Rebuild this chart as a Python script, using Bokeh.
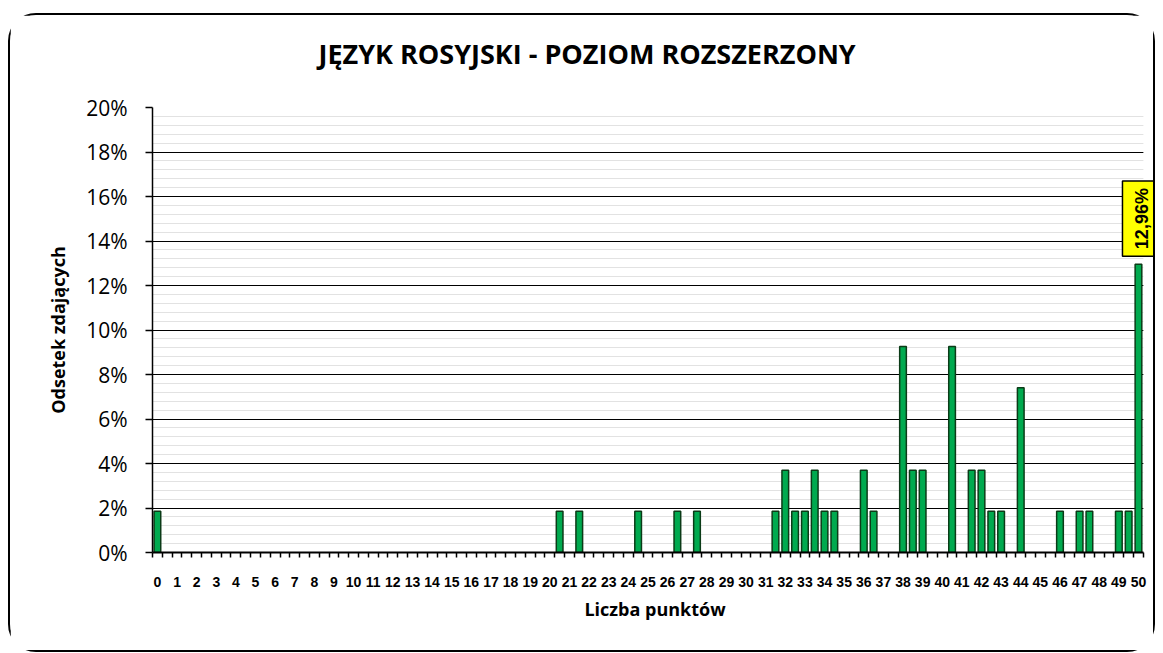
import math
from bokeh.plotting import figure
from bokeh.models import (FixedTicker, Range1d, Label, PrintfTickFormatter,
                          Title, BoxAnnotation)
from bokeh.embed import file_html
from bokeh.resources import INLINE

tytul = "JĘZYK ROSYJSKI - POZIOM ROZSZERZONY"
os_x_tytul = "Liczba punktów"
os_y_tytul = "Odsetek zdających"

# wyniki (punkty) z niezerowym odsetkiem zdających
punkty = [0, 20.5, 21.5, 24.5, 26.5, 27.5, 31.5, 32, 32.5, 33, 33.5, 34, 34.5,
          36, 36.5, 38, 38.5, 39, 40.5, 41.5, 42, 42.5, 43, 44, 46, 47, 47.5,
          49, 49.5, 50]
odsetek = [1.85, 1.85, 1.85, 1.85, 1.85, 1.85, 1.85, 3.70, 1.85, 1.85, 3.70,
           1.85, 1.85, 3.70, 1.85, 9.26, 3.70, 3.70, 9.26, 3.70, 3.70, 1.85,
           1.85, 7.41, 1.85, 1.85, 1.85, 1.85, 1.85, 12.96]

etykiety_x = list(range(0, 51))
etykiety_y = [0, 2, 4, 6, 8, 10, 12, 14, 16, 18, 20]

x_lo, x_hi = -0.25, 50.25   # category band edges

p = figure(width=1147, height=639, output_backend="svg", toolbar_location=None,
           x_range=Range1d(x_lo, 50.97), y_range=Range1d(0, 20),
           min_border_left=142, min_border_right=0, min_border_top=92,
           min_border_bottom=102, title=tytul)
p.styles = {"border": "2px solid black", "border-radius": "28px",
            "margin-top": "13px", "margin-left": "8px"}
p.outline_line_color = None
p.background_fill_color = "white"

p.title.align = "left"
p.title.offset = 166
p.title.standoff = 10
p.title.text_font = "Open Sans"
p.title.text_font_size = "27px"
p.title.text_font_style = "bold"
p.title.text_color = "black"
# spacer between the title and the plot area
p.add_layout(Title(text=" ", text_font_size="10px", standoff=18), "above")

# bars
p.vbar(x=punkty, top=odsetek, width=0.34, bottom=0,
       fill_color="#00AA4F", line_color="#0B3B17", line_width=1.5)

# y axis
yax = p.yaxis[0]
yax.ticker = FixedTicker(ticks=etykiety_y,
                         minor_ticks=[i * 0.4 for i in range(51)])
yax.formatter = PrintfTickFormatter(format="%d%%")
yax.major_label_text_font = "Open Sans"
yax.major_label_text_font_size = "21px"
yax.major_label_text_color = "black"
yax.major_label_standoff = 18
yax.major_tick_out = 7
yax.major_tick_in = 0
yax.minor_tick_line_color = None
yax.axis_line_color = "black"
yax.axis_line_width = 1.5
yax.major_tick_line_color = "black"
yax.major_tick_line_width = 1.5
yax.axis_label = os_y_tytul
yax.axis_label_text_font = "Open Sans"
yax.axis_label_text_font_size = "18px"
yax.axis_label_text_font_style = "bold"
yax.axis_label_text_color = "black"
yax.axis_label_standoff = 13

# x axis
xax = p.xaxis[0]
xax.bounds = (x_lo, x_hi)
xax.ticker = FixedTicker(ticks=etykiety_x,
                         minor_ticks=[k * 0.5 - 0.25 for k in range(102)])
xax.major_tick_out = 0
xax.major_tick_in = 0
xax.minor_tick_out = 5
xax.minor_tick_in = 0
xax.minor_tick_line_color = "black"
xax.minor_tick_line_width = 1.5
xax.axis_line_color = "black"
xax.axis_line_width = 2
xax.major_label_text_font = "Liberation Sans"
xax.major_label_text_font_style = "bold"
xax.major_label_text_font_size = "14px"
xax.major_label_text_color = "black"
xax.major_label_standoff = 19
xax.axis_label = os_x_tytul
xax.axis_label_text_font = "Open Sans"
xax.axis_label_text_font_size = "18px"
xax.axis_label_text_font_style = "bold"
xax.axis_label_text_color = "black"
xax.axis_label_standoff = 7

# grids
p.xgrid.grid_line_color = None
p.ygrid.ticker = yax.ticker
p.ygrid.grid_line_color = "black"
p.ygrid.grid_line_width = 1
p.ygrid.minor_grid_line_color = "#c4c4c4"
p.ygrid.minor_grid_line_dash = "1 1"
p.ygrid.minor_grid_line_width = 1

# plot area ends at the last category: blank the strip to its right
p.add_layout(BoxAnnotation(left=x_hi, fill_color="white", fill_alpha=1.0,
                           line_color=None, level="underlay"))

# data label for the highest bar
imax = odsetek.index(max(odsetek))
tekst = ("%.2f%%" % odsetek[imax]).replace(".", ",")
lab = Label(x=punkty[imax], y=odsetek[imax], text=tekst, angle=math.pi / 2,
            text_align="left", text_baseline="middle", y_offset=8, x_offset=4,
            text_font="Liberation Sans", text_font_style="bold",
            text_font_size="18px", text_color="black",
            background_fill_color="#FFFF00", border_line_color="black",
            border_line_width=1.5, padding=(7, 10))
p.add_layout(lab)

open("out.html", "w").write(file_html(p, INLINE))
